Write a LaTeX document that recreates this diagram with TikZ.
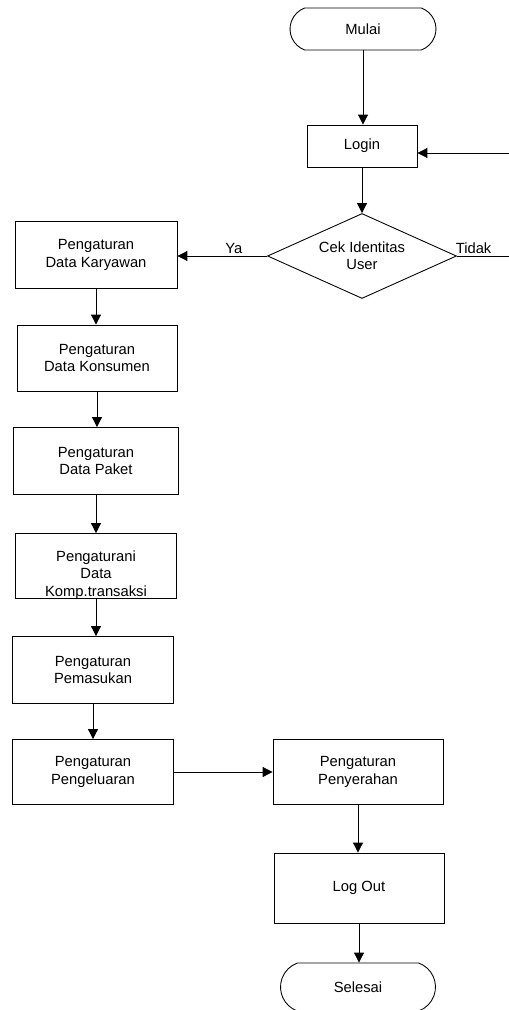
\documentclass[tikz,border=0pt]{standalone}
\usepackage{fontspec}
\setmainfont{Liberation Sans}
\usetikzlibrary{arrows.meta,shapes.geometric,shapes.misc}
\begin{document}
\begin{tikzpicture}[x=0.02cm,y=-0.02cm,line width=0.5pt,
        font=\fontsize{8.4pt}{9.8pt}\selectfont,
        box/.style={draw,rectangle,align=center,inner sep=0pt},
        term/.style={draw,rounded rectangle,rounded rectangle arc length=140,align=center,inner sep=0pt},
        cond/.style={draw,diamond,aspect=2.22,align=center,inner sep=0pt},
        arr/.style={-{Triangle[length=0.2cm,width=0.2cm]}}]
        \useasboundingbox (0,0) rectangle (509,1010);
        \node[term,minimum width=2.92cm,minimum height=0.84cm] (mulai) at (363,29) {Mulai};
        \node[box,minimum width=2.2cm,minimum height=0.84cm] (login) at (362,146) {Login};
        \node[cond,minimum width=3.78cm,minimum height=1.7cm] (cek) at (362,256) {Cek Identitas\\User};
        \node[box,minimum width=3.24cm,minimum height=1.34cm] (karyawan) at (96,255) {Pengaturan\\Data Karyawan};
        \node[box,minimum width=3.2cm,minimum height=1.32cm] (konsumen) at (97,358) {Pengaturan\\Data Konsumen};
        \node[box,minimum width=3.3cm,minimum height=1.34cm] (paket) at (96,461) {Pengaturan\\Data Paket};
        \node[box,minimum width=3.22cm,minimum height=1.3cm] (komp) at (96,566) {};
        \node[align=center,inner sep=0pt] (komp-text) at (96,575) {Pengaturani\\Data\\Komp.transaksi};
        \node[box,minimum width=3.22cm,minimum height=1.34cm] (pemasukan) at (93,670) {Pengaturan\\Pemasukan};
        \node[box,minimum width=3.22cm,minimum height=1.3cm] (pengeluaran) at (93,772) {Pengaturan\\Pengeluaran};
        \node[box,minimum width=3.4cm,minimum height=1.3cm] (penyerahan) at (358,772) {Pengaturan\\Penyerahan};
        \node[box,minimum width=3.4cm,minimum height=1.4cm] (logout) at (359,888) {Log Out};
        \node[term,minimum width=3.1cm,minimum height=0.96cm] (selesai) at (358,987) {Selesai};
        \coordinate (R-in) at (509,153);
        \coordinate (R-out) at (509,256);
        % alur utama
        \draw[arr] (mulai.south) -- (mulai.south |- login.north);
        \draw[arr] (login.south) -- (login.south |- cek.north);
        \draw[arr] (cek.west) -- (cek.west -| karyawan.east) node [pos=0.37,above=1pt,inner sep=0pt] {Ya};
        \draw (cek.east) -- (R-out) node [pos=0.32,above=1pt,inner sep=0pt] {Tidak};
        \draw[arr] (R-in) -- (R-in -| login.east);
        \foreach \a/\b in {karyawan/konsumen,konsumen/paket,paket/komp,komp/pemasukan,pemasukan/pengeluaran,penyerahan/logout,logout/selesai}{%
            \draw[arr] (\a.south) -- (\a.south |- \b.north);
        }
        \draw[arr] (pengeluaran.east) -- (penyerahan.west);
    \end{tikzpicture}
\end{document}
